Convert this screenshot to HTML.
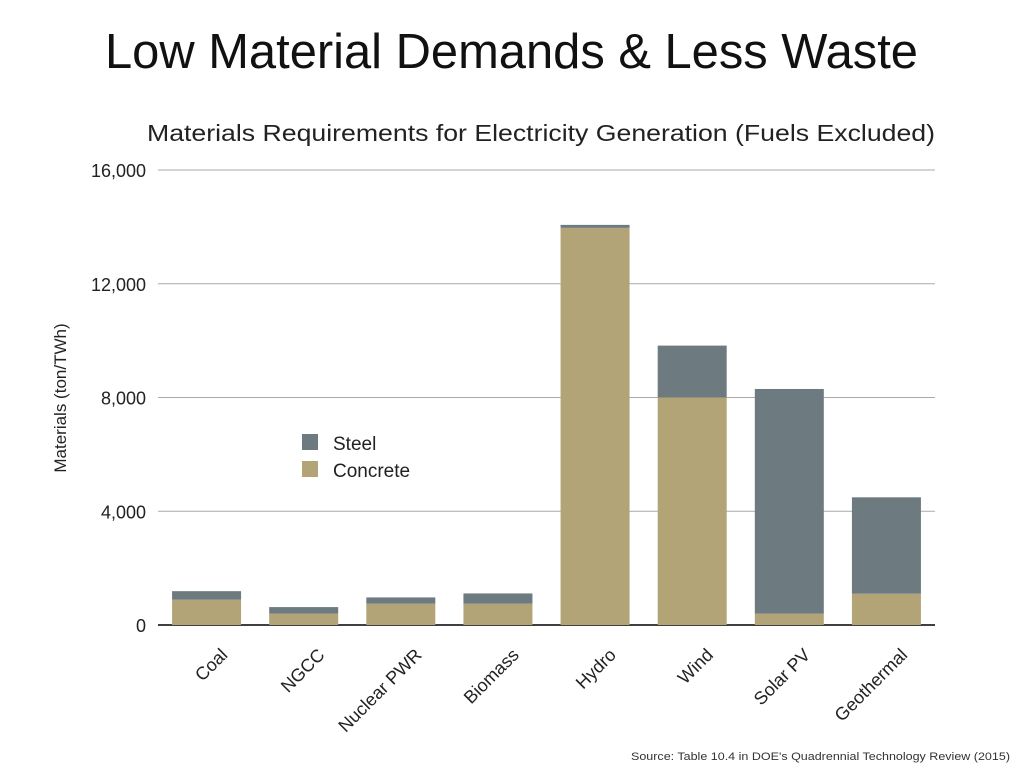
<!DOCTYPE html>
<html><head><meta charset="utf-8"><style>
body{margin:0;background:#fff;width:1024px;height:768px;overflow:hidden;font-family:"Liberation Sans",sans-serif}
</style></head><body>
<svg id="c" width="1024" height="768" xmlns="http://www.w3.org/2000/svg">
<text x="105" y="68" textLength="813" lengthAdjust="spacingAndGlyphs" font-size="49" fill="#111">Low Material Demands &amp; Less Waste</text>
<text x="147" y="141" textLength="788" lengthAdjust="spacingAndGlyphs" font-size="23" fill="#222">Materials Requirements for Electricity Generation (Fuels Excluded)</text>
<text transform="translate(66,398) rotate(-90)" text-anchor="middle" font-size="17" fill="#222">Materials (ton/TWh)</text>
<g id="grid"></g><g id="bars"></g><g id="xl"></g>
<g>
<rect x="302" y="434" width="16" height="16" fill="#6d7b80"/>
<text x="333" y="450" font-size="19" fill="#222">Steel</text>
<rect x="302" y="461" width="16" height="16" fill="#b3a477"/>
<text x="333" y="477" font-size="19" fill="#222">Concrete</text>
</g>
<text x="631" y="760" textLength="379" lengthAdjust="spacingAndGlyphs" font-size="11" fill="#333">Source: Table 10.4 in DOE's Quadrennial Technology Review (2015)</text>
</svg>
<script>
const categories=["Coal","NGCC","Nuclear PWR","Biomass","Hydro","Wind","Solar PV","Geothermal"];
const concrete=[890,400,750,750,13965,8000,400,1100];
const steel=[300,230,220,360,105,1825,7900,3390];
const ticks=[0,4000,8000,12000,16000];
const tickLabels=["0","4,000","8,000","12,000","16,000"];
const NS="http://www.w3.org/2000/svg";
const y0=625,y1=170,vmax=16000,x0=158,x1=935;
const y=v=>y0-(v/vmax)*(y0-y1);
const step=(x1-x0)/categories.length;
const xc=i=>x0+step*(i+0.5);
function mk(t,a,p){const e=document.createElementNS(NS,t);for(const k in a)e.setAttribute(k,a[k]);p.appendChild(e);return e;}
const g=document.getElementById('grid');
ticks.forEach((t,i)=>{
 const l=mk('line',{x1:x0,x2:x1,y1:y(t),y2:y(t),stroke:i==0?'#000':'#aaa','stroke-width':i==0?1.5:1},g);
 
 
 const tx=mk('text',{x:146,y:y(t)+7,'text-anchor':'end','font-size':18,fill:'#222'},g);
 tx.textContent=tickLabels[i];
 
 
});
const b=document.getElementById('bars'),xl=document.getElementById('xl');
const bw=69;
categories.forEach((c,i)=>{
 const cx=xc(i);
 const r1=mk('rect',{x:cx-bw/2,y:y(concrete[i]),width:bw,height:y0-y(concrete[i]),fill:'#b3a477'},b);
 
 
 const tot=concrete[i]+steel[i];
 const r2=mk('rect',{x:cx-bw/2,y:y(tot),width:bw,height:y(concrete[i])-y(tot),fill:'#6d7b80'},b);
 
 
 const t=mk('text',{transform:`translate(${cx+22},${656}) rotate(-45)`,'text-anchor':'end','font-size':18,fill:'#222'},xl);
 t.textContent=c;
 
 
});
</script>
</body></html>
